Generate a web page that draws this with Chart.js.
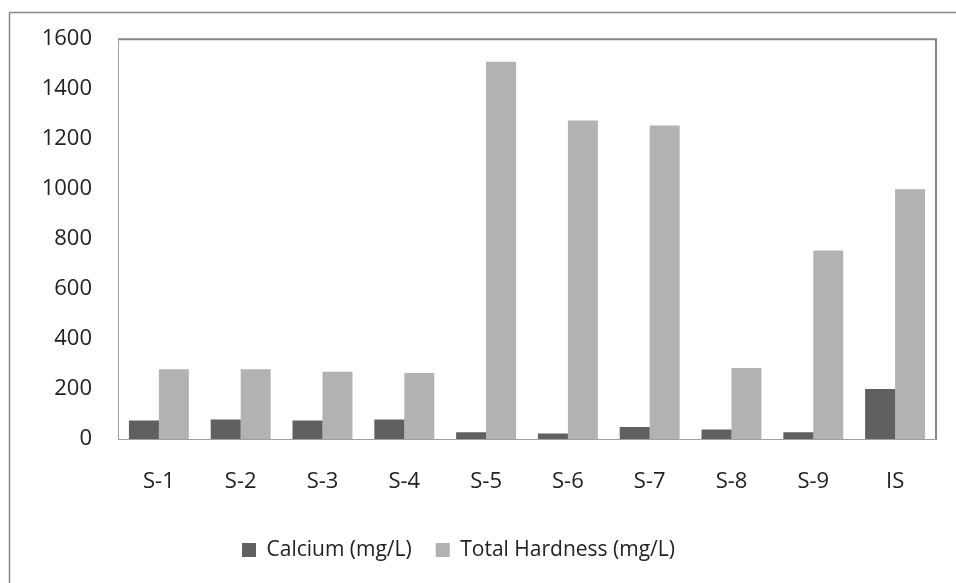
<!DOCTYPE html>
<html>
<head>
<meta charset="utf-8">
<script src="https://cdn.jsdelivr.net/npm/chart.js@4"></script>
<style>
  html, body { margin: 0; padding: 0; background: #fff; }
  #wrap { width: 956px; height: 583px; position: relative; }
</style>
</head>
<body>
<div id="wrap"><canvas id="chart"></canvas></div>
<script>
const sites = ['S-1', 'S-2', 'S-3', 'S-4', 'S-5', 'S-6', 'S-7', 'S-8', 'S-9', 'IS'];
const calcium = [74, 78, 74, 78, 27, 22, 48, 38, 27, 200];
const totalHardness = [279, 279, 269, 264, 1510, 1275, 1255, 284, 754, 1000];
const yTicks = [0, 200, 400, 600, 800, 1000, 1200, 1400, 1600];

const FONT = "'Open Sans', sans-serif";

// frame lines: outer chart border (left/top) and plot box (top/right)
const framePlugin = {
    id: 'frame',
    beforeDraw(chart) {
        const ctx = chart.ctx;
        const a = chart.chartArea;
        ctx.save();
        ctx.strokeStyle = '#8a8a8a';
        ctx.lineWidth = 1.5;
        ctx.beginPath();
        ctx.moveTo(9.5, 583);
        ctx.lineTo(9.5, 12.5);
        ctx.lineTo(956, 12.5);
        ctx.stroke();
        ctx.strokeStyle = '#868686';
        ctx.lineWidth = 2;
        ctx.beginPath();
        ctx.moveTo(a.left, a.top);
        ctx.lineTo(a.right, a.top);
        ctx.lineTo(a.right, a.bottom);
        ctx.stroke();
        ctx.restore();
    }
};

// put the legend where the reference has it
const legendPlace = {
    id: 'legendPlace',
    afterLayout(chart) {
        const lg = chart.legend;
        if (!lg) return;
        const lab = lg.options.labels;
        const w = lg.width, h = lg.height;
        lg.left = 242 - lab.padding;
        lg.right = lg.left + w;
        lg.top = 550 - lab.padding - lab.font.size / 2;
        lg.bottom = lg.top + h;
    }
};

new Chart(document.getElementById('chart'), {
    type: 'bar',
    data: {
        labels: sites,
        datasets: [{
            label: 'Calcium (mg/L)',
            data: calcium,
            backgroundColor: '#606060'
        }, {
            label: 'Total Hardness (mg/L)',
            data: totalHardness,
            backgroundColor: '#b2b2b2'
        }]
    },
    options: {
        responsive: true,
        maintainAspectRatio: false,
        animation: false,
        layout: { padding: { top: 37, right: 20, left: 0, bottom: 0 } },
        plugins: {
            legend: {
                position: 'bottom',
                align: 'start',
                labels: {
                    boxWidth: 14,
                    boxHeight: 14,
                    padding: 24,
                    color: '#222',
                    font: { family: FONT, size: 21 }
                }
            },
            tooltip: { enabled: false }
        },
        datasets: { bar: { categoryPercentage: 0.733, barPercentage: 1 } },
        scales: {
            x: {
                grid: { display: false, drawTicks: false },
                border: { display: true, color: '#a0a0a0', width: 1 },
                ticks: { color: '#222', padding: 30, font: { family: FONT, size: 22 } },
                afterFit(scale) {
                    const lh = scale.chart.legend ? scale.chart.legend.height : 50;
                    scale.height = 144 - lh;
                }
            },
            y: {
                min: 0,
                max: 1600,
                afterBuildTicks(scale) { scale.ticks = yTicks.map(v => ({ value: v })); },
                grid: { display: false, drawTicks: false },
                border: { display: true, color: '#a0a0a0', width: 1 },
                ticks: {
                    color: '#222',
                    padding: 26,
                    font: { family: FONT, size: 22 },
                    callback: v => String(v)
                },
                afterFit(scale) { scale.width = 118; }
            }
        }
    },
    plugins: [framePlugin, legendPlace]
});
</script>
</body>
</html>
